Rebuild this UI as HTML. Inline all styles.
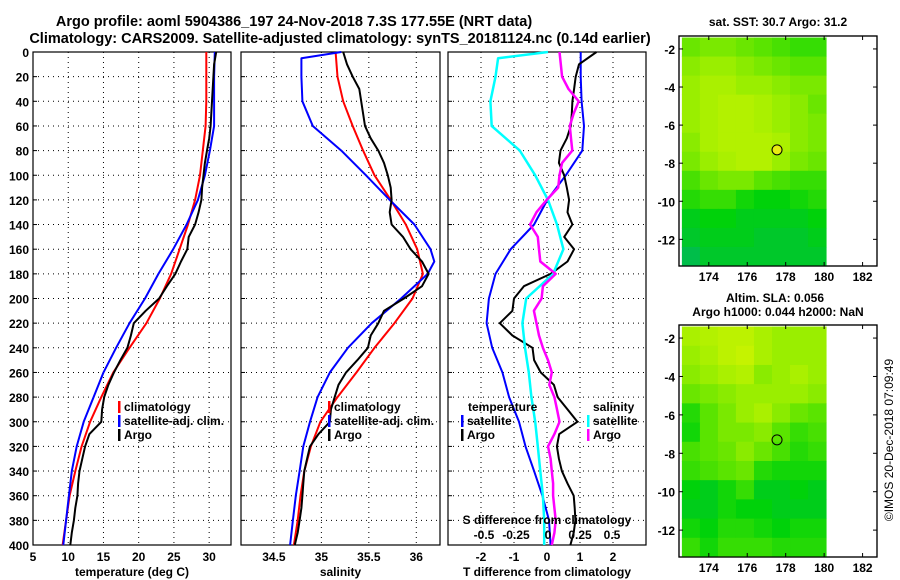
<!DOCTYPE html>
<html><head><meta charset="utf-8">
<style>
html,body{margin:0;padding:0;background:#fff;}
svg{display:block;font-family:"Liberation Sans",sans-serif;font-weight:bold;}
</style></head>
<body>
<svg id="c" width="900" height="580" viewBox="0 0 900 580" xmlns="http://www.w3.org/2000/svg">
<text x="294" y="26" font-size="14.5" text-anchor="middle">Argo profile: aoml 5904386_197 24-Nov-2018 7.3S 177.55E (NRT data)</text>
<text x="340" y="43" font-size="14.5" text-anchor="middle">Climatology: CARS2009. Satellite-adjusted climatology: synTS_20181124.nc (0.14d earlier)</text>
<g id="g"></g>
<text x="778" y="26" font-size="12" text-anchor="middle">sat. SST: 30.7 Argo: 31.2</text>
<text x="775" y="302" font-size="12" text-anchor="middle">Altim. SLA: 0.056</text>
<text x="778" y="316" font-size="12" text-anchor="middle">Argo h1000: 0.044 h2000: NaN</text>
<text transform="translate(893,440) rotate(-90)" font-size="12" font-weight="normal" text-anchor="middle">©IMOS 20-Dec-2018 07:09:49</text>
</svg>
<script>
// ---- data ----
const depths = [0,20,40,60,80,100,120,140,160,180,200,220,240,260,280,300,320,340,360,380,400];
const tClim = [29.6,29.6,29.6,29.5,29.1,28.7,28.0,27.0,25.8,24.6,23.0,21.1,18.7,16.4,14.7,13.1,11.9,11.0,10.2,9.7,9.2];
const tSat  = [30.8,30.7,30.7,30.7,30.1,29.4,28.4,26.8,24.9,22.8,20.9,18.7,16.8,15.0,13.6,12.2,11.2,10.5,10.1,9.7,9.3];
const argoDepths = [0,10,20,30,40,50,60,70,80,90,100,110,120,130,140,150,160,170,180,190,200,210,220,230,240,250,260,270,280,290,300,310,320,330,340,350,360,370,380,390,400];
const tArgo = [31.0,30.7,30.6,30.5,30.4,30.3,30.2,30.0,29.7,29.4,29.2,29.0,28.9,28.5,28.0,27.1,26.9,26.0,25.2,24.0,22.9,21.0,19.3,18.9,18.4,17.4,16.5,15.7,15.1,14.8,14.7,13.0,12.4,12.0,11.6,11.4,11.3,11.0,10.8,10.5,10.3];
const sClim = [35.15,35.17,35.23,35.33,35.44,35.56,35.73,35.89,36.01,36.07,35.96,35.77,35.56,35.37,35.17,34.99,34.89,34.82,34.78,34.75,34.71];
const satDepths = [0,5,20,40,60,80,100,120,140,160,170,180,200,220,240,260,280,300,320,340,360,380,400];
const sSat = [35.21,34.79,34.79,34.80,34.91,35.21,35.47,35.72,35.98,36.15,36.19,36.12,35.84,35.53,35.28,35.09,34.96,34.88,34.81,34.77,34.73,34.70,34.67];
const sArgo = [35.23,35.27,35.33,35.40,35.42,35.44,35.46,35.52,35.60,35.66,35.70,35.73,35.74,35.72,35.74,35.86,35.94,36.06,36.13,36.06,35.87,35.66,35.60,35.52,35.49,35.38,35.26,35.18,35.14,35.10,35.09,34.97,34.88,34.85,34.82,34.81,34.80,34.79,34.77,34.75,34.72];
const dtSat = [1.02,1.02,1.05,1.12,1.07,0.57,0.01,-0.39,-1.10,-1.56,-1.76,-1.83,-1.66,-1.35,-1.15,-0.85,-0.65,-0.39,-0.14,0.06,0.11];
const dtArgo = [1.5,0.97,0.87,0.82,0.77,0.75,0.72,0.6,0.41,0.36,0.52,0.6,0.67,0.62,0.77,0.52,0.82,0.62,0.11,-0.70,-1.0,-1.05,-1.43,-1.05,-0.44,-0.39,-0.19,0.21,0.32,0.62,0.92,0.37,0.30,0.36,0.45,0.62,0.81,0.84,0.86,0.81,0.71];
const dsSat = [0.0,-0.39,-0.41,-0.45,-0.44,-0.22,-0.10,0.0,0.07,0.12,0.04,-0.17,-0.20,-0.18,-0.15,-0.13,-0.10,-0.08,-0.06,-0.04,-0.03,-0.03];
const dsSatDepths = [0,5,20,40,60,80,100,120,140,160,180,200,220,240,260,280,300,320,340,360,380,400];
const dsArgo = [0.09,0.10,0.11,0.16,0.24,0.20,0.17,0.18,0.19,0.11,0.09,0.08,-0.01,-0.09,-0.14,-0.08,-0.07,-0.06,0.06,-0.04,-0.05,-0.11,-0.09,-0.07,-0.04,0.0,0.03,0.01,0.05,0.07,0.09,0.05,0.0,0.02,0.03,0.04,0.04,0.05,0.06,0.05,0.03];
const depthTicks = [0,20,40,60,80,100,120,140,160,180,200,220,240,260,280,300,320,340,360,380,400];
const tTicks = [5,10,15,20,25,30];
const sTicks = [34.5,35,35.5,36];
const dTicks = [-2,-1,0,1,2];
const dsTicks = [-0.5,-0.25,0,0.25,0.5];
const dsTickLabels = ["-0.5","-0.25","0","0.25","0.5"];
const lonTicks = [174,176,178,180,182];
const latTicks = [-2,-4,-6,-8,-10,-12];
const sstGrid = [
[.55,.6,.6,.55,.5,.45,.4,.4],
[.65,.7,.7,.65,.6,.55,.5,.5],
[.7,.75,.75,.7,.7,.65,.6,.6],
[.7,.75,.8,.8,.75,.7,.65,.55],
[.7,.75,.8,.8,.75,.7,.65,.6],
[.65,.75,.8,.8,.8,.75,.65,.6],
[.6,.7,.75,.8,.8,.7,.6,.55],
[.45,.55,.6,.6,.5,.45,.4,.4],
[.35,.4,.4,.3,.25,.25,.3,.35],
[.2,.25,.25,.2,.2,.2,.2,.25],
[.15,.2,.2,.2,.15,.15,.15,.2],
[.05,.15,.15,.15,.15,.15,.15,.15]];
const slaGrid = [
[.75,.8,.85,.85,.75,.7,.7,.7],
[.7,.75,.85,.9,.75,.7,.7,.7],
[.65,.7,.75,.8,.65,.7,.75,.7],
[.55,.6,.65,.7,.7,.7,.7,.65],
[.35,.5,.6,.7,.75,.65,.55,.5],
[.3,.5,.6,.6,.65,.5,.4,.45],
[.45,.5,.55,.65,.55,.45,.35,.4],
[.4,.45,.5,.55,.35,.3,.3,.3],
[.25,.2,.3,.4,.2,.2,.25,.2],
[.2,.2,.3,.25,.25,.2,.2,.2],
[.3,.25,.35,.35,.3,.25,.3,.3],
[.4,.3,.4,.4,.4,.35,.35,.35]];
const argoLon = 177.55, argoLat = -7.3;

// ---- drawing ----
const NS="http://www.w3.org/2000/svg";
const G=document.getElementById('g');
function mk(tag,attrs,parent){const e=document.createElementNS(NS,tag);for(const k in attrs)e.setAttribute(k,attrs[k]);(parent||G).appendChild(e);return e;}
const Y0=52,Y1=545;
const yD=d=>Y0+(d/400)*(Y1-Y0);
function lin(d0,d1,r0,r1){return v=>r0+(v-d0)/(d1-d0)*(r1-r0);}
const panels=[
 {x0:33,x1:231,dmin:5,dmax:33.1,ticks:tTicks,labels:tTicks.map(String),title:'temperature (deg C)',name:'temperature-panel'},
 {x0:241,x1:440,dmin:34.153,dmax:36.25,ticks:sTicks,labels:["34.5","35","35.5","36"],title:'salinity',name:'salinity-panel'},
 {x0:448,x1:646,dmin:-3,dmax:3,ticks:dTicks,labels:dTicks.map(String),title:'T difference from climatology',name:'difference-panel'}];
panels.forEach(p=>{
  p.x=lin(p.dmin,p.dmax,p.x0,p.x1);
  const b=mk('rect',{x:p.x0,y:Y0,width:p.x1-p.x0,height:Y1-Y0,fill:'#fff',stroke:'#000','stroke-width':1.2});
  
  
  depthTicks.forEach(d=>{
    if(d>0&&d<400){const l=mk('line',{x1:p.x0,x2:p.x1,y1:yD(d),y2:yD(d),stroke:'#000','stroke-width':1,'stroke-dasharray':'1,4'});
    
    
    mk('line',{x1:p.x0,x2:p.x0+4,y1:yD(d),y2:yD(d),stroke:'#000'});}
  });
  p.ticks.forEach((t,i)=>{
    const xx=p.x(t);
    const l=mk('line',{x1:xx,x2:xx,y1:Y0,y2:Y1,stroke:'#000','stroke-dasharray':'1,4'});
    
    
    const tx=mk('text',{x:xx,y:561,'font-size':12,'text-anchor':'middle'});tx.textContent=p.labels[i];
    
    
  });
  const tt=mk('text',{x:(p.x0+p.x1)/2,y:576,'font-size':12,'text-anchor':'middle'});tt.textContent=p.title;
  
  
});
depthTicks.forEach(d=>{const t=mk('text',{x:29,y:yD(d)+5,'font-size':12,'text-anchor':'end'});t.textContent=d;
  
  });
function line(xs,ds,xf,col,w,name){
  const pts=xs.map((v,i)=>xf(v).toFixed(1)+','+yD(ds[i]).toFixed(1)).join(' ');
  const e=mk('polyline',{points:pts,fill:'none',stroke:col,'stroke-width':w,'stroke-linejoin':'round'});
  
  
}
const [P1,P2,P3]=panels;
line(tClim,depths,P1.x,'#f00',2,'temperature-climatology-line');
line(tSat,depths,P1.x,'#00f',2,'temperature-satellite-line');
line(tArgo,argoDepths,P1.x,'#000',2,'temperature-argo-line');
line(sClim,depths,P2.x,'#f00',2,'salinity-climatology-line');
line(sSat,satDepths,P2.x,'#00f',2,'salinity-satellite-line');
line(sArgo,argoDepths,P2.x,'#000',2,'salinity-argo-line');
const sx=lin(-0.5,0.5,548-64,548+64);
line(dtSat,depths,P3.x,'#00f',2,'t-diff-satellite-line');
line(dtArgo,argoDepths,P3.x,'#000',2,'t-diff-argo-line');
line(dsSat,dsSatDepths,sx,'#0ff',2.5,'s-diff-satellite-line');
line(dsArgo,argoDepths,sx,'#f0f',2.5,'s-diff-argo-line');
// legends
function leg(x,y,col,txt,name){const b=mk('rect',{x:x,y:y-10,width:2.5,height:12,fill:col});
  
  
  const t=mk('text',{x:x+6,y:y,'font-size':12});t.textContent=txt;
  
  }
leg(118,411,'#f00','climatology','legend-climatology');
leg(118,425,'#00f','satellite-adj. clim.','legend-satellite-adj');
leg(118,439,'#000','Argo','legend-argo');
leg(328,411,'#f00','climatology','legend2-climatology');
leg(328,425,'#00f','satellite-adj. clim.','legend2-satellite-adj');
leg(328,439,'#000','Argo','legend2-argo');
let t=mk('text',{x:468,y:411,'font-size':12});t.textContent='temperature';


leg(461,425,'#00f','satellite','legend-t-satellite');
leg(461,439,'#000','Argo','legend-t-argo');
t=mk('text',{x:593,y:411,'font-size':12});t.textContent='salinity';


leg(587,425,'#0ff','satellite','legend-s-satellite');
leg(587,439,'#f0f','Argo','legend-s-argo');
t=mk('text',{x:547,y:524,'font-size':12,'text-anchor':'middle'});t.textContent='S difference from climatology';


dsTicks.forEach((v,i)=>{const e=mk('text',{x:sx(v),y:539,'font-size':12,'text-anchor':'middle'});e.textContent=dsTickLabels[i];
  
  });
// maps
function col(v){const stops=[[0,[0,185,90]],[0.25,[0,210,10]],[0.5,[90,228,0]],[0.75,[170,240,0]],[1,[215,245,0]]];
  for(let i=1;i<stops.length;i++){if(v<=stops[i][0]){const a=stops[i-1],b=stops[i],f=(v-a[0])/(b[0]-a[0]);
    return 'rgb('+a[1].map((c,j)=>Math.round(c+f*(b[1][j]-c))).join(',')+')';}}return 'rgb(215,245,0)';}
function map(top,bottom,grid,name,circFill){
  const lx=lin(172.45,182.75,679,877), ly=lin(-1.32,-13.4,top,bottom);
  const fr=mk('rect',{x:679,y:top,width:198,height:bottom-top,fill:'#fff',stroke:'#000','stroke-width':1.2});
  
  
  const rows=grid.length,cols=grid[0].length,lon0=172.6,lon1=180.1,lat0=-1.4,lat1=-13.4;
  grid.forEach((r,i)=>r.forEach((v,j)=>{
    const xa=lx(lon0+(lon1-lon0)*j/cols),xb=lx(lon0+(lon1-lon0)*(j+1)/cols);
    const ya=ly(lat0+(lat1-lat0)*i/rows),yb=ly(lat0+(lat1-lat0)*(i+1)/rows);
    const c=mk('rect',{x:xa,y:ya,width:xb-xa+0.5,height:yb-ya+0.5,fill:col(v)});
    
    
  }));
  mk('rect',{x:679,y:top,width:198,height:bottom-top,fill:'none',stroke:'#000','stroke-width':1.2});
  lonTicks.forEach(v=>{const x=lx(v);mk('line',{x1:x,x2:x,y1:bottom,y2:bottom-4,stroke:'#000'});mk('line',{x1:x,x2:x,y1:top,y2:top+4,stroke:'#000'});
    const e=mk('text',{x:x,y:bottom+15,'font-size':12,'text-anchor':'middle'});e.textContent=v;
    
    });
  latTicks.forEach(v=>{const y=ly(v);mk('line',{x1:679,x2:683,y1:y,y2:y,stroke:'#000'});mk('line',{x1:873,x2:877,y1:y,y2:y,stroke:'#000'});
    const e=mk('text',{x:675,y:y+5,'font-size':12,'text-anchor':'end'});e.textContent=v;
    
    });
  const c=mk('circle',{cx:lx(argoLon),cy:ly(argoLat),r:5,fill:circFill,stroke:'#000','stroke-width':1});
  
  
}
map(36,266,sstGrid,'sst-map','#e8ec10');
map(325,557,slaGrid,'sla-map','none');
</script>
</body></html>
